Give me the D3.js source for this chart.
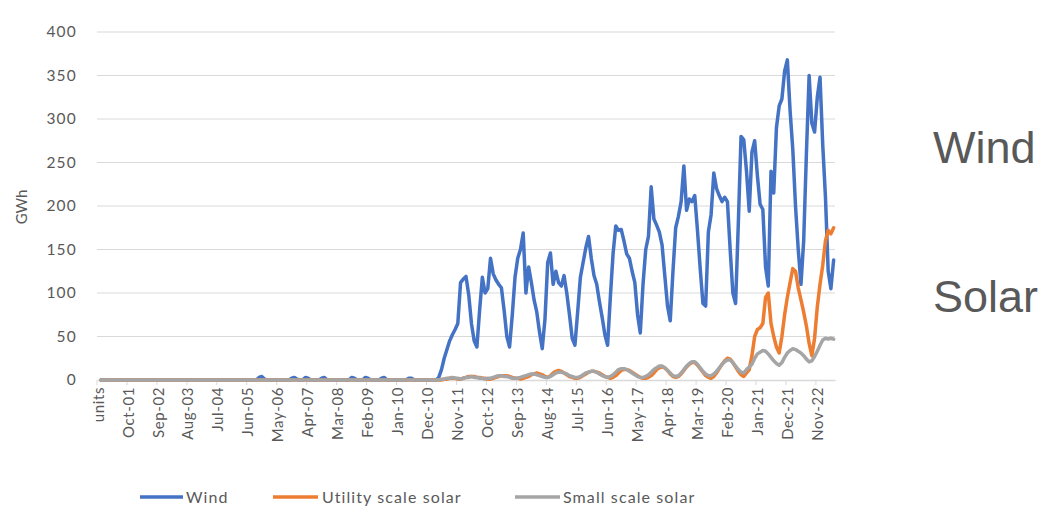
<!DOCTYPE html>
<html>
<head>
<meta charset="utf-8">
<script src="https://cdn.jsdelivr.net/npm/d3@7"></script>
<style>
  body { margin: 0; background: #fff; }
  svg { display: block; }
</style>
</head>
<body>
<svg id="chart" width="1045" height="512"></svg>
<script>
// Monthly generation, GWh. First category is the sheet's "units" header row (no value).
const firstMonth = new Date(2000, 11, 1);   // Dec-00
const monthCount = 270;                      // Dec-00 .. May-23
const months = d3.timeMonth
  .range(firstMonth, d3.timeMonth.offset(firstMonth, monthCount))
  .map(d3.timeFormat("%b-%y"));
const categories = ["units", ...months];
const labelEvery = 11;

const yTicks = [0, 50, 100, 150, 200, 250, 300, 350, 400];
const seriesNames = ["Wind", "Utility scale solar", "Small scale solar"];
const seriesColors = ["#4472C4", "#ED7D31", "#A5A5A5"];

const wind = [null,
  0,0,0,0,0,0,0,0,0,0,
  0,0,0,0,0,0,0,0,0,0,
  0,0,0,0,0,0,0,0,0,0,
  0,0,0,0,0,0,0,0,0,0,
  0,0,0,0,0,0,0,0,0,0,
  0,0,0,0,0,0,0,0,3,4,
  1,0,0,0,0,0,0,0,0,0,
  2,3,1,0,0,3,2,0,0,0,
  0,2,3,0,0,0,0,0,0,0,
  0,0,3,2,0,0,0,3,2,0,
  0,0,0,2,3,0,0,0,0,0,
  0,0,0,2,2,0,0,0,0,0,
  0,0,0,0,3,12,25,35,45,52,
  58,65,112,116,119,98,65,45,38,80,
  118,100,105,140,122,115,110,106,80,50,
  38,75,118,140,150,169,100,130,112,92,
  78,55,36,70,135,146,110,125,112,108,
  120,100,75,48,40,78,118,135,152,165,
  140,120,110,90,72,52,40,95,145,177,
  172,173,160,145,140,125,112,75,54,110,
  150,165,222,185,178,170,155,120,85,68,
  125,175,188,205,246,195,208,205,212,172,
  128,88,85,170,190,238,220,212,205,210,
  205,150,100,88,180,280,276,240,194,262,
  275,235,202,196,130,108,240,215,290,315,
  323,355,368,310,265,200,150,110,160,260,
  350,295,285,325,348,270,210,125,105,138
];

const utilitySolar = [null,
  0,0,0,0,0,0,0,0,0,0,
  0,0,0,0,0,0,0,0,0,0,
  0,0,0,0,0,0,0,0,0,0,
  0,0,0,0,0,0,0,0,0,0,
  0,0,0,0,0,0,0,0,0,0,
  0,0,0,0,0,0,0,0,0,0,
  0,0,0,0,0,0,0,0,0,0,
  0,0,0,0,0,0,0,0,0,0,
  0,0,0,0,0,0,0,0,0,0,
  0,0,0,0,0,0,0,0,0,0,
  0,0,0,0,0,0,0,0,0,0,
  0,0,0,0,0,0,0,0,0,0,
  0,0,0,0,0,0,1,1,2,2,
  2,1,1,2,3,4,4,4,3,3,
  2,2,1,1,2,3,4,5,5,5,
  4,3,2,2,1,2,3,4,6,7,
  8,7,6,4,3,5,8,10,11,10,
  8,6,4,3,2,2,3,5,7,9,
  10,10,9,8,6,4,3,2,3,5,
  8,11,12,12,11,9,7,5,3,2,
  2,3,5,8,12,14,15,14,11,7,
  4,3,4,7,11,15,18,20,20,17,
  13,9,5,3,2,4,8,13,18,22,
  25,24,20,15,10,6,4,8,12,28,
  50,58,60,65,95,100,65,50,38,31,
  50,75,95,112,128,125,106,92,78,62,
  42,28,48,84,110,132,160,172,168,175
];

const smallSolar = [null,
  0,0,0,0,0,0,0,0,0,0,
  0,0,0,0,0,0,0,0,0,0,
  0,0,0,0,0,0,0,0,0,0,
  0,0,0,0,0,0,0,0,0,0,
  0,0,0,0,0,0,0,0,0,0,
  0,0,0,0,0,0,0,0,0,0,
  0,0,0,0,0,0,0,0,0,0,
  0,0,0,0,0,0,0,0,0,0,
  0,0,0,0,0,0,0,0,0,0,
  0,0,0,0,0,0,0,0,0,0,
  0,0,0,0,0,0,0,0,0,0,
  0,0,0,0,0,0,0,0,0,0,
  0,0,0,0,0,1,1,2,2,3,
  2,2,1,2,3,3,4,3,3,2,
  2,1,2,2,3,4,5,5,4,4,
  3,2,2,2,3,4,5,6,7,7,
  6,5,4,3,3,4,6,8,9,9,
  8,7,5,4,3,3,4,6,8,9,
  10,10,9,7,5,4,3,4,6,9,
  12,13,13,12,10,8,6,4,3,3,
  4,6,9,12,14,16,16,14,11,8,
  5,4,5,8,12,16,19,21,21,18,
  14,10,7,5,5,7,10,14,18,21,
  23,23,20,16,12,9,8,12,15,18,
  25,30,32,34,33,30,26,22,19,17,
  20,26,31,34,36,35,33,31,28,24,
  21,22,27,33,40,46,48,47,48,47
];

const seriesValues = [wind, utilitySolar, smallSolar];
const sideLabels = ["Wind", "Solar"];

// ---- layout ----
const plot = { left: 97, right: 835, top: 32, bottom: 380 };
const textColor = "#595959";
const font = "Lato, 'Open Sans', sans-serif";

const svg = d3.select("#chart");

const x = d3.scaleBand().domain(categories).range([plot.left, plot.right]);
const y = d3.scaleLinear().domain([0, 400]).range([plot.bottom, plot.top]);
const cx = c => x(c) + x.bandwidth() / 2;

// horizontal gridlines
svg.append("g")
  .selectAll("line")
  .data(yTicks.filter(t => t > 0))
  .join("line")
  .attr("x1", plot.left).attr("x2", plot.right)
  .attr("y1", d => y(d)).attr("y2", d => y(d))
  .attr("stroke", "#d9d9d9").attr("stroke-width", 1.2);

// y axis (labels only)
const yAxis = svg.append("g")
  .attr("transform", `translate(${plot.left},0)`)
  .call(d3.axisLeft(y).tickValues(yTicks).tickSize(0).tickPadding(20));
yAxis.select(".domain").remove();
yAxis.selectAll("text")
  .attr("fill", textColor)
  .style("font-family", font).style("font-size", "15.5px")
  .style("letter-spacing", "1.2px");

// x axis
const labelled = categories.filter((c, i) => i % labelEvery === 0);
const xAxis = svg.append("g")
  .attr("transform", `translate(0,${plot.bottom})`)
  .call(d3.axisBottom(x).tickValues(labelled).tickSize(0).tickPadding(6));
xAxis.select(".domain").attr("stroke", "#d9d9d9").attr("stroke-width", 1.5);
xAxis.selectAll("text")
  .attr("fill", textColor)
  .style("font-family", font).style("font-size", "15px")
  .style("letter-spacing", "0.6px")
  .attr("transform", "rotate(-90)")
  .attr("text-anchor", "end")
  .attr("x", -7).attr("y", 0).attr("dy", "0.35em");

// small tick marks between label groups
svg.append("g")
  .selectAll("line")
  .data(labelled)
  .join("line")
  .attr("x1", d => x(d)).attr("x2", d => x(d))
  .attr("y1", plot.bottom).attr("y2", plot.bottom + 5)
  .attr("stroke", "#d9d9d9").attr("stroke-width", 1);

// y axis title
svg.append("text")
  .attr("transform", "translate(27,207) rotate(-90)")
  .attr("text-anchor", "middle")
  .attr("fill", textColor)
  .style("font-family", font).style("font-size", "15px")
  .text("GWh");

// series lines
const line = d3.line()
  .defined(d => d.v != null)
  .x(d => cx(d.c))
  .y(d => y(d.v));

seriesValues.forEach((vals, k) => {
  const pts = categories.map((c, i) => ({ c, v: vals[i] }));
  svg.append("path")
    .datum(pts)
    .attr("fill", "none")
    .attr("stroke", seriesColors[k])
    .attr("stroke-width", 3.5)
    .attr("stroke-linejoin", "round")
    .attr("stroke-linecap", "round")
    .attr("d", line);
});

// legend
const legendItems = [
  { x1: 140, x2: 183, tx: 186 },
  { x1: 273, x2: 318, tx: 322 },
  { x1: 515, x2: 560, tx: 563 }
];
const legend = svg.append("g");
seriesNames.forEach((name, k) => {
  const it = legendItems[k];
  legend.append("line")
    .attr("x1", it.x1).attr("x2", it.x2)
    .attr("y1", 497).attr("y2", 497)
    .attr("stroke", seriesColors[k]).attr("stroke-width", 3.5);
  legend.append("text")
    .attr("x", it.tx).attr("y", 497).attr("dy", "0.35em")
    .attr("fill", textColor)
    .style("font-family", font).style("font-size", "16px")
    .style("letter-spacing", "1.1px")
    .text(name);
});

// large side labels
svg.append("g")
  .selectAll("text")
  .data(sideLabels)
  .join("text")
  .attr("x", 933)
  .attr("y", (d, i) => i === 0 ? 163 : 312)
  .attr("fill", textColor)
  .style("font-family", "'Liberation Sans', Arial, sans-serif")
  .style("font-size", "45px")
  .text(d => d);
</script>
</body>
</html>
